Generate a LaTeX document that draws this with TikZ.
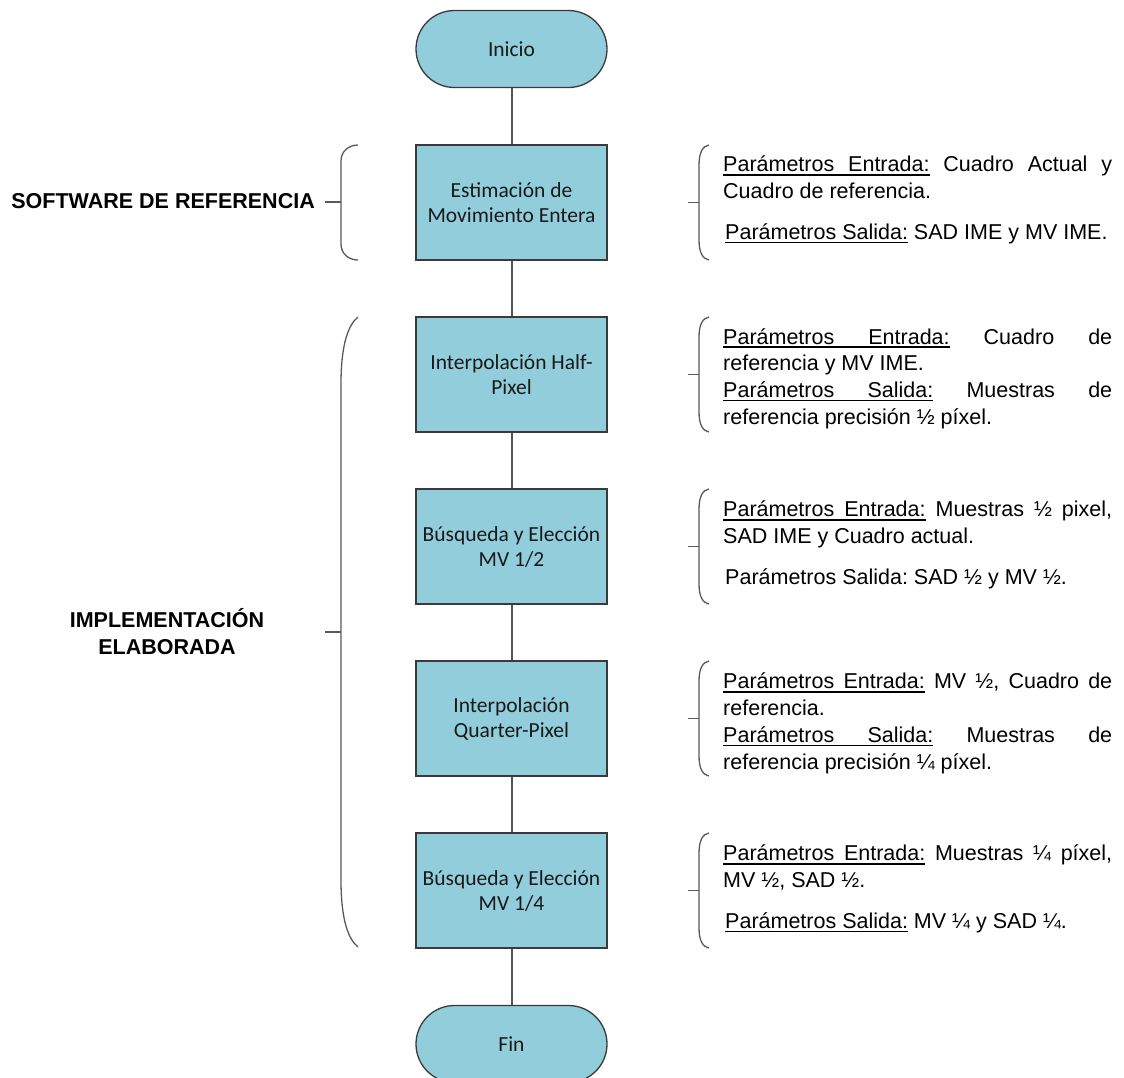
\documentclass[tikz,border=0pt]{standalone}
\usepackage{fontspec}
\setmainfont{Liberation Sans}
\newfontfamily\boxfont{Carlito}
\definecolor{boxfill}{HTML}{92CDDC}
\definecolor{edgec}{HTML}{3A3A3A}
\definecolor{connc}{HTML}{555555}
\definecolor{bracec}{HTML}{5A5A5A}
\newcommand{\infostart}{\tolerance=10000 \frenchspacing\leavevmode\vrule width 0pt height 20pt depth 0pt\relax}
\newcommand{\ulw}[1]{\leavevmode\setbox0\hbox{#1}\rlap{\vrule width\wd0 height -2.2pt depth 3.6pt}\box0}
\newcommand{\uls}{\leaders\hrule height -2.2pt depth 3.6pt\hskip\fontdimen2\font plus\fontdimen3\font minus\fontdimen4\font\relax}
\newcommand{\PE}{\ulw{Parámetros}\uls\ulw{Entrada:}}
\newcommand{\PS}{\ulw{Parámetros}\uls\ulw{Salida:}}
\begin{document}
\begin{tikzpicture}[x=1pt,y=-1pt,
  proc/.style={draw=edgec, line width=1.3pt, fill=boxfill, minimum width=191pt, minimum height=115pt, inner sep=0pt, align=center, font=\boxfont\fontsize{21.5pt}{25pt}\selectfont, text=black!90},
  term/.style={proc, minimum height=77pt, rounded corners=38.5pt},
  conn/.style={draw=connc, line width=2pt},
  brc/.style={draw=bracec, line width=1.3pt},
  info/.style={anchor=north west, inner sep=0pt, text width=389pt, align=justify, font=\fontsize{21.5pt}{26.7pt}\selectfont},
  side/.style={font=\bfseries\fontsize{21.5pt}{27pt}\selectfont, inner sep=0pt, align=center}]
\useasboundingbox[fill=white] (0,0) rectangle (1124,1077);

% flow nodes
\node[term] (inicio) at (511.5,49) {Inicio};
\node[proc] (b1) at (511.5,202.5) {Estimación de\\Movimiento Entera};
\node[proc] (b2) at (511.5,374.5) {Interpolación Half-\\Pixel};
\node[proc] (b3) at (511.5,546.5) {Búsqueda y Elección\\MV 1/2};
\node[proc] (b4) at (511.5,718.5) {Interpolación\\Quarter-Pixel};
\node[proc] (b5) at (511.5,890.5) {Búsqueda y Elección\\MV 1/4};
\node[term] (fin) at (511.5,1044) {Fin};

\draw[conn] (inicio) -- (b1);
\draw[conn] (b1) -- (b2);
\draw[conn] (b2) -- (b3);
\draw[conn] (b3) -- (b4);
\draw[conn] (b4) -- (b5);
\draw[conn] (b5) -- (fin);

% left labels
\node[side, anchor=east] (sw) at (315,201) {SOFTWARE DE REFERENCIA};
\node[side] (impl) at (167,632) {IMPLEMENTACIÓN\\ELABORADA};

% left braces
\draw[brc] (358,145) .. controls (349,145) and (341,151) .. (341,161) -- (341,244) .. controls (341,254) and (349,260) .. (358,260);
\draw[brc] (325,202) -- (341,202);
\draw[brc] (358,317) .. controls (348,325) and (341,345) .. (341,384) -- (341,880) .. controls (341,919) and (348,939) .. (358,947);
\draw[brc] (325,632) -- (341,632);

% right braces
\foreach \t in {145,317,489,661,833}{
  \draw[brc] (709,\t) .. controls (703,\t+1) and (699,\t+7) .. (699,\t+20) -- (699,\t+95) .. controls (699,\t+108) and (703,\t+114) .. (709,\t+115);
  \draw[brc] (688,\t+57.5) -- (699,\t+57.5);
}

% info texts
\node[info] (t1) at (723,151.7) {\infostart\PE{} Cuadro Actual y\linebreak Cuadro de referencia.\par\vspace{14pt}\hspace*{2pt}\PS{} SAD IME y MV IME.};
\node[info] (t2) at (723,324) {\infostart\PE{} Cuadro de\linebreak referencia y MV IME.\par \PS{} Muestras de\linebreak referencia precisión ½ píxel.};
\node[info] (t3) at (723,496.7) {\infostart\PE{} Muestras ½ pixel,\linebreak SAD IME y Cuadro actual.\par\vspace{14pt}\hspace*{2pt}Parámetros Salida: SAD ½ y MV ½.};
\node[info] (t4) at (723,668.7) {\infostart\PE{} MV ½, Cuadro de\linebreak referencia.\par \PS{} Muestras de\linebreak referencia precisión ¼ píxel.};
\node[info] (t5) at (723,840.7) {\infostart\PE{} Muestras ¼ píxel,\linebreak MV ½, SAD ½.\par\vspace{14pt}\hspace*{2pt}\PS{} MV ¼ y SAD ¼.};
\end{tikzpicture}
\end{document}
